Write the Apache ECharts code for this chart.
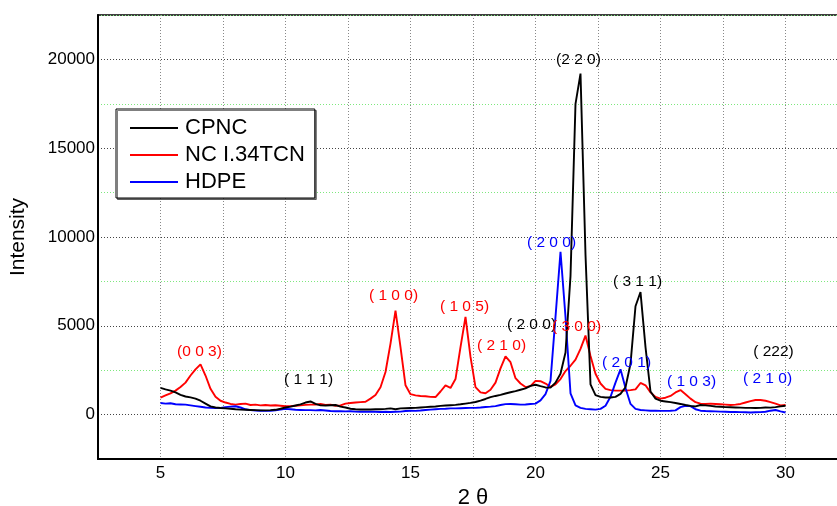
<!DOCTYPE html>
<html>
<head>
<meta charset="utf-8">
<script src="https://cdn.jsdelivr.net/npm/echarts@6/dist/echarts.min.js"></script>
<style>html,body{margin:0;padding:0;background:#fff}#c{width:837px;height:506px}</style>
</head>
<body>
<div id="c"></div>
<script>
var twoTheta = [5.0,5.2,5.4,5.6,5.8,6.0,6.2,6.4,6.6,6.8,7.0,7.2,7.4,7.6,7.8,8.0,8.2,8.4,8.6,8.8,
9.0,9.2,9.4,9.6,9.8,10.0,10.2,10.4,10.6,10.8,11.0,11.2,11.4,11.6,11.8,12.0,12.2,12.4,12.6,12.8,
13.0,13.2,13.4,13.6,13.8,14.0,14.2,14.4,14.6,14.8,15.0,15.2,15.4,15.6,15.8,16.0,16.2,16.4,16.6,16.8,
17.0,17.2,17.4,17.6,17.8,18.0,18.2,18.4,18.6,18.8,19.0,19.2,19.4,19.6,19.8,20.0,20.2,20.4,20.6,20.8,
21.0,21.2,21.4,21.6,21.8,22.0,22.2,22.4,22.6,22.8,23.0,23.2,23.4,23.6,23.8,24.0,24.2,24.4,24.6,24.8,
25.0,25.2,25.4,25.6,25.8,26.0,26.2,26.4,26.6,26.8,27.0,27.2,27.4,27.6,27.8,28.0,28.2,28.4,28.6,28.8,
29.0,29.2,29.4,29.6,29.8,30.0];

var cpnc = [1500,1420,1350,1250,1110,1020,970,900,780,620,
460,400,370,350,330,300,280,270,260,250,
240,240,250,270,330,400,450,510,580,680,
740,600,520,510,530,540,450,400,330,300,
290,290,290,300,300,320,350,300,350,360,
370,380,400,420,440,460,490,510,530,550,
580,620,660,710,790,880,980,1050,1110,1190,
1260,1320,1400,1480,1620,1680,1600,1530,1520,1800,
2300,3500,7800,17500,19200,9000,1700,1100,1000,960,
960,1000,1170,1540,2860,6100,6900,3800,1300,900,
780,740,700,650,600,540,490,460,540,520,
490,460,440,420,410,400,390,380,380,370,
380,400,390,420,460,500];

var nc = [960,1080,1200,1350,1550,1800,2200,2550,2830,2200,
1450,1000,780,680,600,560,600,620,540,560,
520,540,510,530,500,470,470,500,520,550,
560,560,600,540,560,500,520,620,650,680,
700,720,900,1100,1540,2400,4000,5850,3800,1650,
1150,1080,1050,1030,1000,990,1300,1640,1500,2000,
3800,5500,3250,1550,1250,1200,1400,1800,2600,3280,
2950,2050,1750,1550,1600,1900,1880,1750,1560,1700,
2000,2450,2750,3100,3700,4450,3300,2300,1750,1450,
1380,1350,1350,1350,1380,1420,1780,1650,1250,1000,
900,950,1050,1250,1380,1150,900,700,620,600,
620,600,580,560,540,560,600,680,760,820,
820,780,700,620,520,540];

var hdpe = [650,620,640,580,570,560,520,480,440,400,
380,370,380,420,450,470,400,300,250,230,
220,210,220,240,280,320,300,270,260,250,
250,240,260,230,200,190,190,180,190,170,
160,160,170,160,150,160,150,160,170,200,
220,210,230,260,280,300,320,330,350,350,
360,370,380,380,400,430,450,480,540,590,
600,580,560,570,600,620,800,1150,1900,5500,
9170,5500,1200,520,380,320,300,280,320,500,
1000,1800,2550,1500,600,320,260,240,220,220,
210,210,220,240,420,500,480,300,220,200,
190,180,170,160,150,150,140,130,120,130,
140,160,220,260,180,120];

var seriesNames = ['CPNC', 'NC I.34TCN', 'HDPE'];

// peak annotations (data coordinates of label centres)
var cpncLabels = ['(2 2 0)', '( 1 1 1)', '( 2 0 0)', '( 3 1 1)', '( 222)'];
var cpncLabelX = [21.72, 10.92, 19.84, 24.08, 29.52];
var cpncLabelY = [20000, 1980, 5080, 7460, 3560];

var ncLabels = ['(0 0 3)', '( 1 0 0)', '( 1 0 5)', '( 2 1 0)', '( 3 0 0)'];
var ncLabelX = [6.56, 14.32, 17.16, 18.64, 21.64];
var ncLabelY = [3560, 6720, 6100, 3900, 4970];

var hdpeLabels = ['( 2 0 0)', '( 2 0 1)', '( 1 0 3)', '( 2 1 0)'];
var hdpeLabelX = [20.64, 23.64, 26.24, 29.28];
var hdpeLabelY = [9660, 2940, 1860, 2030];

var xTicks = [5, 10, 15, 20, 25, 30];
var yTicks = [0, 5000, 10000, 15000, 20000];

function pairs(xs, ys) { return xs.map(function (x, i) { return [x, ys[i]]; }); }
function marks(texts, xs, ys, color) {
  return {
    symbol: 'circle', symbolSize: 0, silent: true, animation: false,
    label: { show: true, position: 'inside', color: color, fontSize: 15.5, fontFamily: 'Liberation Sans, Arial, sans-serif' },
    data: texts.map(function (t, i) {
      return { coord: [xs[i], ys[i]], value: t, label: { formatter: t } };
    })
  };
}

var chart = echarts.init(document.getElementById('c'), null, { renderer: 'canvas' });
var FONT = 'Liberation Sans, Arial, Helvetica, sans-serif';
chart.setOption({
  animation: false,
  backgroundColor: '#fff',
  grid: { left: 98, top: 15, width: 750, height: 444, show: true, borderColor: '#000', borderWidth: 1.5,
          containLabel: false, outerBoundsMode: 'none' },
  legend: {
    orient: 'vertical', left: 116, top: 109,
    padding: [8, 10, 5, 14], itemGap: 5, itemWidth: 48, itemHeight: 2,
    backgroundColor: '#fff', borderColor: '#000', borderWidth: 1,
    shadowColor: 'rgba(0,0,0,0.5)', shadowOffsetX: 1.5, shadowOffsetY: 1.5, shadowBlur: 0,
    textStyle: { fontSize: 22, fontFamily: FONT, color: '#000', lineHeight: 22, padding: [0, 0, 0, 2] },
    data: seriesNames.map(function (n) { return { name: n, icon: 'rect' }; })
  },
  xAxis: {
    type: 'value', min: 2.5, max: 32.5, interval: 2.5,
    name: '2 \u03b8', nameLocation: 'middle', nameGap: 27,
    nameTextStyle: { fontSize: 22, fontFamily: FONT, color: '#000' },
    axisLine: { show: true, onZero: false, lineStyle: { color: '#000', width: 2 } },
    axisTick: { show: false },
    axisLabel: {
      fontSize: 17, fontFamily: FONT, color: '#000', margin: 6,
      formatter: function (v) { return xTicks.indexOf(Math.round(v * 10) / 10) >= 0 ? String(v) : ''; }
    },
    splitLine: { show: true, lineStyle: { color: '#888', type: [1, 2], width: 1 } }
  },
  yAxis: {
    type: 'value', min: -2500, max: 22500, interval: 2500,
    name: 'Intensity', nameLocation: 'middle', nameGap: 69, nameRotate: 90,
    nameTextStyle: { fontSize: 21, fontFamily: FONT, color: '#000' },
    axisLine: { show: true, onZero: false, lineStyle: { color: '#000', width: 2 } },
    axisTick: { show: false },
    axisLabel: {
      fontSize: 17, fontFamily: FONT, color: '#000', margin: 3,
      formatter: function (v) { return yTicks.indexOf(v) >= 0 ? String(v) : ''; }
    },
    splitLine: { show: true, lineStyle: { color: ['#7ee87e', '#444'], type: [1, 2], width: 1 } }
  },
  series: [
    { name: seriesNames[0], type: 'line', symbol: 'none', data: pairs(twoTheta, cpnc), lineStyle: { color: '#000', width: 1.9 }, itemStyle: { color: '#000' }, z: 4,
      markPoint: marks(cpncLabels, cpncLabelX, cpncLabelY, '#000') },
    { name: seriesNames[1], type: 'line', symbol: 'none', data: pairs(twoTheta, nc), lineStyle: { color: '#ff0000', width: 1.9 }, itemStyle: { color: '#ff0000' }, z: 3,
      markPoint: marks(ncLabels, ncLabelX, ncLabelY, '#ff0000') },
    { name: seriesNames[2], type: 'line', symbol: 'none', data: pairs(twoTheta, hdpe), lineStyle: { color: '#0000ff', width: 1.9 }, itemStyle: { color: '#0000ff' }, z: 3,
      markPoint: marks(hdpeLabels, hdpeLabelX, hdpeLabelY, '#0000ff') }
  ]
});
</script>
</body>
</html>
